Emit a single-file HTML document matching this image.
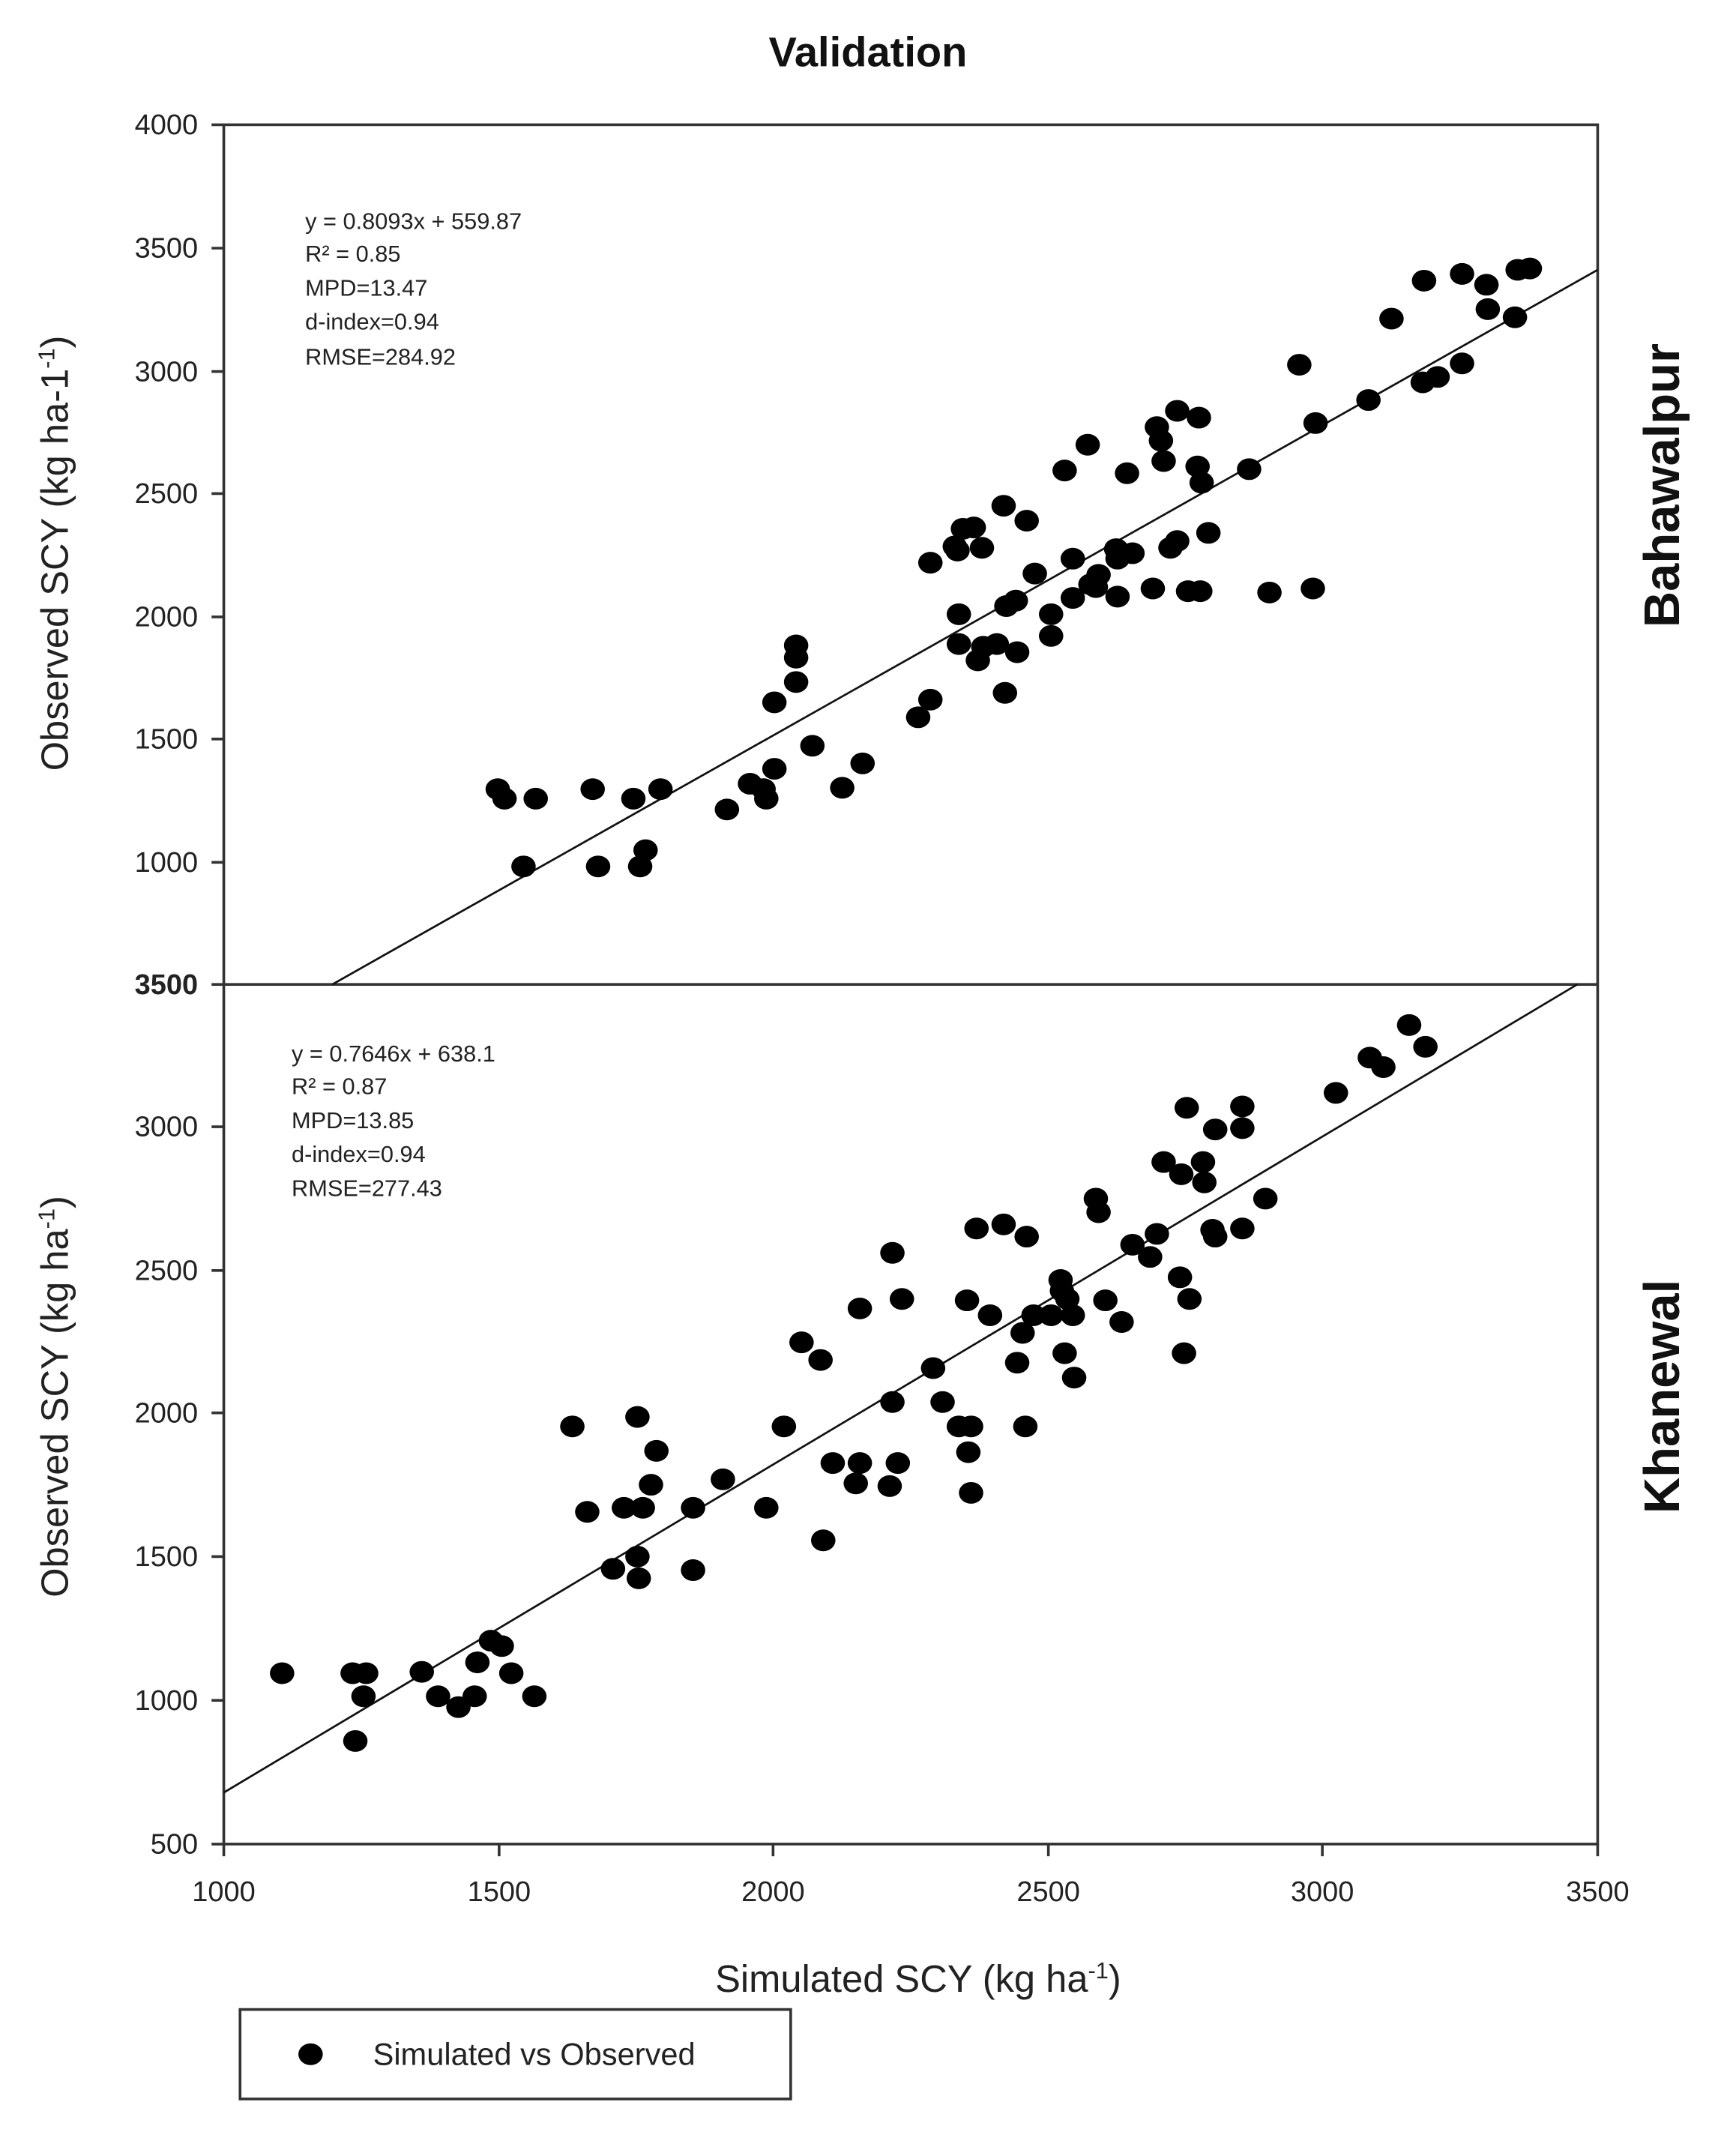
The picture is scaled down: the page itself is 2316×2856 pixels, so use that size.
<!DOCTYPE html>
<html><head><meta charset="utf-8"><style>html,body{margin:0;padding:0;background:#fff}svg{display:block}</style></head>
<body>
<svg width="2316" height="2856" viewBox="0 0 1280 1579" preserveAspectRatio="none" xmlns="http://www.w3.org/2000/svg" font-family="Liberation Sans, Arial, sans-serif">
<rect width="1280" height="1579" fill="#fff"/>
<text x="640" y="49" font-size="31" font-weight="bold" text-anchor="middle" fill="#111">Validation</text>
<g stroke="#333" stroke-width="2" fill="none">
<rect x="165" y="92" width="1013" height="1268"/>
<line x1="165" y1="726" x2="1178" y2="726"/>
<line x1="156" y1="92" x2="165" y2="92"/><line x1="156" y1="183" x2="165" y2="183"/><line x1="156" y1="274" x2="165" y2="274"/><line x1="156" y1="364" x2="165" y2="364"/><line x1="156" y1="455" x2="165" y2="455"/><line x1="156" y1="545" x2="165" y2="545"/><line x1="156" y1="636" x2="165" y2="636"/><line x1="156" y1="726" x2="165" y2="726"/>
<line x1="156" y1="831" x2="165" y2="831"/><line x1="156" y1="937" x2="165" y2="937"/><line x1="156" y1="1042" x2="165" y2="1042"/><line x1="156" y1="1148" x2="165" y2="1148"/><line x1="156" y1="1254" x2="165" y2="1254"/><line x1="156" y1="1360" x2="165" y2="1360"/>
<line x1="165" y1="1360" x2="165" y2="1369"/><line x1="368" y1="1360" x2="368" y2="1369"/><line x1="570" y1="1360" x2="570" y2="1369"/><line x1="773" y1="1360" x2="773" y2="1369"/><line x1="975" y1="1360" x2="975" y2="1369"/><line x1="1178" y1="1360" x2="1178" y2="1369"/>
</g>
<g stroke="#111" stroke-width="1.5">
<line x1="245" y1="726" x2="1178" y2="199"/>
<line x1="165" y1="1322" x2="1163" y2="726"/>
</g>
<g font-size="21" fill="#222" text-anchor="end">
<text x="146" y="99">4000</text><text x="146" y="190">3500</text><text x="146" y="281">3000</text><text x="146" y="371">2500</text><text x="146" y="462">2000</text><text x="146" y="552">1500</text><text x="146" y="643">1000</text><text x="146" y="733" font-weight="bold">3500</text>
<text x="146" y="838">3000</text><text x="146" y="944">2500</text><text x="146" y="1049">2000</text><text x="146" y="1155">1500</text><text x="146" y="1261">1000</text><text x="146" y="1367">500</text>
</g>
<g font-size="21" fill="#222" text-anchor="middle">
<text x="165" y="1402">1000</text><text x="368" y="1402">1500</text><text x="570" y="1402">2000</text><text x="773" y="1402">2500</text><text x="975" y="1402">3000</text><text x="1178" y="1402">3500</text>
</g>
<text x="677" y="1469" font-size="28" fill="#222" text-anchor="middle">Simulated SCY (kg ha<tspan dy="-10" font-size="17">-1</tspan><tspan dy="10">)</tspan></text>
<text transform="translate(50,408) rotate(-90)" font-size="28" fill="#222" text-anchor="middle">Observed SCY (kg ha-1<tspan dy="-10" font-size="17">-1</tspan><tspan dy="10">)</tspan></text>
<text transform="translate(50,1030) rotate(-90)" font-size="28" fill="#222" text-anchor="middle">Observed SCY (kg ha<tspan dy="-10" font-size="17">-1</tspan><tspan dy="10">)</tspan></text>
<text transform="translate(1238,358) rotate(-90)" font-size="37" font-weight="bold" fill="#111" text-anchor="middle">Bahawalpur</text>
<text transform="translate(1238,1030) rotate(-90)" font-size="37" font-weight="bold" fill="#111" text-anchor="middle">Khanewal</text>
<g font-size="17" fill="#222">
<text x="225" y="169">y = 0.8093x + 559.87</text><text x="225" y="193">R² = 0.85</text><text x="225" y="218">MPD=13.47</text><text x="225" y="243">d-index=0.94</text><text x="225" y="269">RMSE=284.92</text>
<text x="215" y="783">y = 0.7646x + 638.1</text><text x="215" y="807">R² = 0.87</text><text x="215" y="832">MPD=13.85</text><text x="215" y="857">d-index=0.94</text><text x="215" y="882">RMSE=277.43</text>
</g>
<rect x="177" y="1482" width="406" height="66" fill="none" stroke="#333" stroke-width="2"/>
<ellipse cx="229" cy="1515" rx="9" ry="8" fill="#000"/>
<text x="275" y="1523" font-size="23" fill="#222">Simulated vs Observed</text>
<g fill="#000">
<ellipse cx="367" cy="582" rx="9" ry="8"/><ellipse cx="372" cy="589" rx="9" ry="8"/><ellipse cx="395" cy="589" rx="9" ry="8"/><ellipse cx="386" cy="639" rx="9" ry="8"/><ellipse cx="437" cy="582" rx="9" ry="8"/><ellipse cx="441" cy="639" rx="9" ry="8"/><ellipse cx="467" cy="589" rx="9" ry="8"/><ellipse cx="472" cy="639" rx="9" ry="8"/><ellipse cx="476" cy="627" rx="9" ry="8"/><ellipse cx="487" cy="582" rx="9" ry="8"/><ellipse cx="536" cy="597" rx="9" ry="8"/><ellipse cx="553" cy="578" rx="9" ry="8"/><ellipse cx="563" cy="582" rx="9" ry="8"/><ellipse cx="565" cy="589" rx="9" ry="8"/><ellipse cx="571" cy="567" rx="9" ry="8"/><ellipse cx="571" cy="518" rx="9" ry="8"/><ellipse cx="587" cy="503" rx="9" ry="8"/><ellipse cx="587" cy="476" rx="9" ry="8"/><ellipse cx="587" cy="485" rx="9" ry="8"/><ellipse cx="599" cy="550" rx="9" ry="8"/><ellipse cx="621" cy="581" rx="9" ry="8"/><ellipse cx="636" cy="563" rx="9" ry="8"/><ellipse cx="677" cy="529" rx="9" ry="8"/><ellipse cx="686" cy="516" rx="9" ry="8"/><ellipse cx="686" cy="415" rx="9" ry="8"/><ellipse cx="706" cy="406" rx="9" ry="8"/><ellipse cx="707" cy="475" rx="9" ry="8"/><ellipse cx="707" cy="453" rx="9" ry="8"/><ellipse cx="704" cy="403" rx="9" ry="8"/><ellipse cx="710" cy="390" rx="9" ry="8"/><ellipse cx="718" cy="389" rx="9" ry="8"/><ellipse cx="724" cy="404" rx="9" ry="8"/><ellipse cx="721" cy="487" rx="9" ry="8"/><ellipse cx="725" cy="477" rx="9" ry="8"/><ellipse cx="735" cy="475" rx="9" ry="8"/><ellipse cx="740" cy="373" rx="9" ry="8"/><ellipse cx="741" cy="511" rx="9" ry="8"/><ellipse cx="742" cy="447" rx="9" ry="8"/><ellipse cx="749" cy="443" rx="9" ry="8"/><ellipse cx="750" cy="481" rx="9" ry="8"/><ellipse cx="757" cy="384" rx="9" ry="8"/><ellipse cx="763" cy="423" rx="9" ry="8"/><ellipse cx="775" cy="453" rx="9" ry="8"/><ellipse cx="775" cy="469" rx="9" ry="8"/><ellipse cx="785" cy="347" rx="9" ry="8"/><ellipse cx="791" cy="412" rx="9" ry="8"/><ellipse cx="791" cy="441" rx="9" ry="8"/><ellipse cx="802" cy="328" rx="9" ry="8"/><ellipse cx="804" cy="431" rx="9" ry="8"/><ellipse cx="808" cy="433" rx="9" ry="8"/><ellipse cx="810" cy="424" rx="9" ry="8"/><ellipse cx="823" cy="405" rx="9" ry="8"/><ellipse cx="824" cy="412" rx="9" ry="8"/><ellipse cx="824" cy="440" rx="9" ry="8"/><ellipse cx="831" cy="349" rx="9" ry="8"/><ellipse cx="835" cy="408" rx="9" ry="8"/><ellipse cx="850" cy="434" rx="9" ry="8"/><ellipse cx="853" cy="315" rx="9" ry="8"/><ellipse cx="856" cy="325" rx="9" ry="8"/><ellipse cx="858" cy="340" rx="9" ry="8"/><ellipse cx="863" cy="404" rx="9" ry="8"/><ellipse cx="868" cy="399" rx="9" ry="8"/><ellipse cx="868" cy="303" rx="9" ry="8"/><ellipse cx="876" cy="436" rx="9" ry="8"/><ellipse cx="883" cy="344" rx="9" ry="8"/><ellipse cx="884" cy="308" rx="9" ry="8"/><ellipse cx="886" cy="356" rx="9" ry="8"/><ellipse cx="885" cy="436" rx="9" ry="8"/><ellipse cx="891" cy="393" rx="9" ry="8"/><ellipse cx="921" cy="346" rx="9" ry="8"/><ellipse cx="936" cy="437" rx="9" ry="8"/><ellipse cx="958" cy="269" rx="9" ry="8"/><ellipse cx="968" cy="434" rx="9" ry="8"/><ellipse cx="970" cy="312" rx="9" ry="8"/><ellipse cx="1009" cy="295" rx="9" ry="8"/><ellipse cx="1026" cy="235" rx="9" ry="8"/><ellipse cx="1050" cy="207" rx="9" ry="8"/><ellipse cx="1049" cy="282" rx="9" ry="8"/><ellipse cx="1060" cy="278" rx="9" ry="8"/><ellipse cx="1078" cy="202" rx="9" ry="8"/><ellipse cx="1078" cy="268" rx="9" ry="8"/><ellipse cx="1096" cy="210" rx="9" ry="8"/><ellipse cx="1097" cy="228" rx="9" ry="8"/><ellipse cx="1117" cy="234" rx="9" ry="8"/><ellipse cx="1119" cy="199" rx="9" ry="8"/><ellipse cx="1128" cy="198" rx="9" ry="8"/>
<ellipse cx="208" cy="1234" rx="9" ry="8"/><ellipse cx="260" cy="1234" rx="9" ry="8"/><ellipse cx="262" cy="1284" rx="9" ry="8"/><ellipse cx="268" cy="1251" rx="9" ry="8"/><ellipse cx="270" cy="1234" rx="9" ry="8"/><ellipse cx="311" cy="1233" rx="9" ry="8"/><ellipse cx="323" cy="1251" rx="9" ry="8"/><ellipse cx="338" cy="1259" rx="9" ry="8"/><ellipse cx="350" cy="1251" rx="9" ry="8"/><ellipse cx="352" cy="1226" rx="9" ry="8"/><ellipse cx="362" cy="1210" rx="9" ry="8"/><ellipse cx="370" cy="1214" rx="9" ry="8"/><ellipse cx="377" cy="1234" rx="9" ry="8"/><ellipse cx="394" cy="1251" rx="9" ry="8"/><ellipse cx="422" cy="1052" rx="9" ry="8"/><ellipse cx="433" cy="1115" rx="9" ry="8"/><ellipse cx="452" cy="1157" rx="9" ry="8"/><ellipse cx="460" cy="1112" rx="9" ry="8"/><ellipse cx="470" cy="1045" rx="9" ry="8"/><ellipse cx="470" cy="1148" rx="9" ry="8"/><ellipse cx="471" cy="1164" rx="9" ry="8"/><ellipse cx="474" cy="1112" rx="9" ry="8"/><ellipse cx="480" cy="1095" rx="9" ry="8"/><ellipse cx="484" cy="1070" rx="9" ry="8"/><ellipse cx="511" cy="1112" rx="9" ry="8"/><ellipse cx="511" cy="1158" rx="9" ry="8"/><ellipse cx="533" cy="1091" rx="9" ry="8"/><ellipse cx="565" cy="1112" rx="9" ry="8"/><ellipse cx="578" cy="1052" rx="9" ry="8"/><ellipse cx="591" cy="990" rx="9" ry="8"/><ellipse cx="605" cy="1003" rx="9" ry="8"/><ellipse cx="607" cy="1136" rx="9" ry="8"/><ellipse cx="614" cy="1079" rx="9" ry="8"/><ellipse cx="631" cy="1094" rx="9" ry="8"/><ellipse cx="634" cy="1079" rx="9" ry="8"/><ellipse cx="634" cy="965" rx="9" ry="8"/><ellipse cx="658" cy="924" rx="9" ry="8"/><ellipse cx="658" cy="1034" rx="9" ry="8"/><ellipse cx="656" cy="1096" rx="9" ry="8"/><ellipse cx="662" cy="1079" rx="9" ry="8"/><ellipse cx="665" cy="958" rx="9" ry="8"/><ellipse cx="688" cy="1009" rx="9" ry="8"/><ellipse cx="695" cy="1034" rx="9" ry="8"/><ellipse cx="707" cy="1052" rx="9" ry="8"/><ellipse cx="713" cy="959" rx="9" ry="8"/><ellipse cx="716" cy="1052" rx="9" ry="8"/><ellipse cx="714" cy="1071" rx="9" ry="8"/><ellipse cx="716" cy="1101" rx="9" ry="8"/><ellipse cx="720" cy="906" rx="9" ry="8"/><ellipse cx="730" cy="970" rx="9" ry="8"/><ellipse cx="740" cy="903" rx="9" ry="8"/><ellipse cx="750" cy="1005" rx="9" ry="8"/><ellipse cx="754" cy="983" rx="9" ry="8"/><ellipse cx="757" cy="912" rx="9" ry="8"/><ellipse cx="756" cy="1052" rx="9" ry="8"/><ellipse cx="762" cy="970" rx="9" ry="8"/><ellipse cx="775" cy="970" rx="9" ry="8"/><ellipse cx="783" cy="952" rx="9" ry="8"/><ellipse cx="782" cy="944" rx="9" ry="8"/><ellipse cx="787" cy="958" rx="9" ry="8"/><ellipse cx="785" cy="998" rx="9" ry="8"/><ellipse cx="791" cy="970" rx="9" ry="8"/><ellipse cx="792" cy="1016" rx="9" ry="8"/><ellipse cx="808" cy="884" rx="9" ry="8"/><ellipse cx="810" cy="894" rx="9" ry="8"/><ellipse cx="815" cy="959" rx="9" ry="8"/><ellipse cx="827" cy="975" rx="9" ry="8"/><ellipse cx="835" cy="918" rx="9" ry="8"/><ellipse cx="848" cy="927" rx="9" ry="8"/><ellipse cx="853" cy="910" rx="9" ry="8"/><ellipse cx="858" cy="857" rx="9" ry="8"/><ellipse cx="870" cy="942" rx="9" ry="8"/><ellipse cx="873" cy="998" rx="9" ry="8"/><ellipse cx="871" cy="866" rx="9" ry="8"/><ellipse cx="877" cy="958" rx="9" ry="8"/><ellipse cx="875" cy="817" rx="9" ry="8"/><ellipse cx="887" cy="857" rx="9" ry="8"/><ellipse cx="888" cy="872" rx="9" ry="8"/><ellipse cx="896" cy="833" rx="9" ry="8"/><ellipse cx="894" cy="907" rx="9" ry="8"/><ellipse cx="896" cy="912" rx="9" ry="8"/><ellipse cx="916" cy="816" rx="9" ry="8"/><ellipse cx="916" cy="832" rx="9" ry="8"/><ellipse cx="916" cy="906" rx="9" ry="8"/><ellipse cx="933" cy="884" rx="9" ry="8"/><ellipse cx="985" cy="806" rx="9" ry="8"/><ellipse cx="1010" cy="780" rx="9" ry="8"/><ellipse cx="1020" cy="787" rx="9" ry="8"/><ellipse cx="1039" cy="756" rx="9" ry="8"/><ellipse cx="1051" cy="772" rx="9" ry="8"/>
</g>
</svg>
</body></html>
